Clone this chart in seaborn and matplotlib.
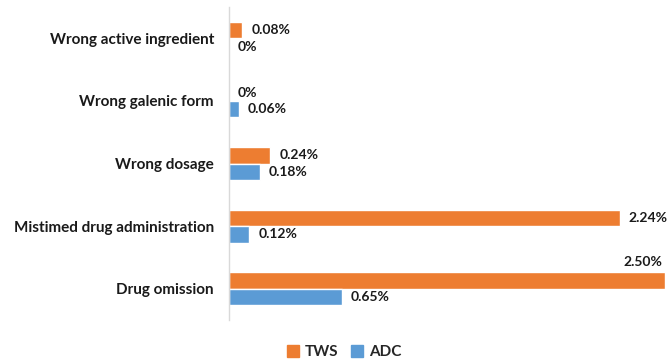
import matplotlib
matplotlib.use("Agg")
import matplotlib.pyplot as plt
import seaborn as sns
import pandas as pd

categories = ["Wrong active ingredient", "Wrong galenic form", "Wrong dosage",
              "Mistimed drug administration", "Drug omission"]
tws = [0.08, 0.0, 0.24, 2.24, 2.50]
adc = [0.0, 0.06, 0.18, 0.12, 0.65]
series = ["TWS", "ADC"]
colors = {"TWS": "#ED7D31", "ADC": "#5B9BD5"}

df = pd.DataFrame({
    "category": categories * 2,
    "value": tws + adc,
    "series": ["TWS"] * len(categories) + ["ADC"] * len(categories),
})

sns.set_theme(style="white")
plt.rcParams['font.family'] = ['Lato', 'DejaVu Sans']
plt.rcParams['font.weight'] = 'bold'

fig = plt.figure(figsize=(6.69, 3.59), dpi=100)
ax = fig.add_axes([228.5 / 669, 1 - 320 / 359, (665 - 228.5) / 669, (320 - 7) / 359])

sns.barplot(data=df, y="category", x="value", hue="series", order=categories,
            hue_order=series, palette=colors, width=0.53, orient="h", ax=ax,
            saturation=1, legend=True)

ax.set_xlim(0, 2.5)
ax.set_ylim(4.5, -0.5)
ax.set_xlabel("")
ax.set_ylabel("")
ax.set_xticks([])
ax.tick_params(axis="y", length=0, pad=10.5, labelsize=11)
for lab in ax.get_yticklabels():
    lab.set_fontweight("bold")
    lab.set_color("#1a1a1a")
for s in ["top", "right", "bottom"]:
    ax.spines[s].set_visible(False)
ax.spines["left"].set_color("#D9D9D9")
ax.spines["left"].set_linewidth(1.0)

for container, name in zip(ax.containers, series):
    for bar in container:
        w = bar.get_width()
        yc = bar.get_y() + bar.get_height() / 2
        txt = f"{w:.2f}%" if w > 0 else "0%"
        if w >= 2.4:
            ax.annotate(txt, (w, bar.get_y()), xytext=(-2, 3), textcoords="offset points",
                        ha="right", va="bottom", fontsize=10, fontweight="bold", color="#1a1a1a")
        else:
            ax.annotate(txt, (w, yc), xytext=(6.5, 0), textcoords="offset points",
                        ha="left", va="center", fontsize=10, fontweight="bold", color="#1a1a1a")

ax.legend_.remove()
handles = [plt.Rectangle((0, 0), 1, 1, color=colors[s]) for s in series]
fig.legend(handles, series, loc="center", bbox_to_anchor=(344 / 669, 1 - 352 / 359), ncol=2,
           frameon=False, handlelength=0.8, handleheight=0.8, handletextpad=0.4,
           columnspacing=0.8, prop={"weight": "bold", "size": 11})

fig.savefig("out.png", dpi=100)
